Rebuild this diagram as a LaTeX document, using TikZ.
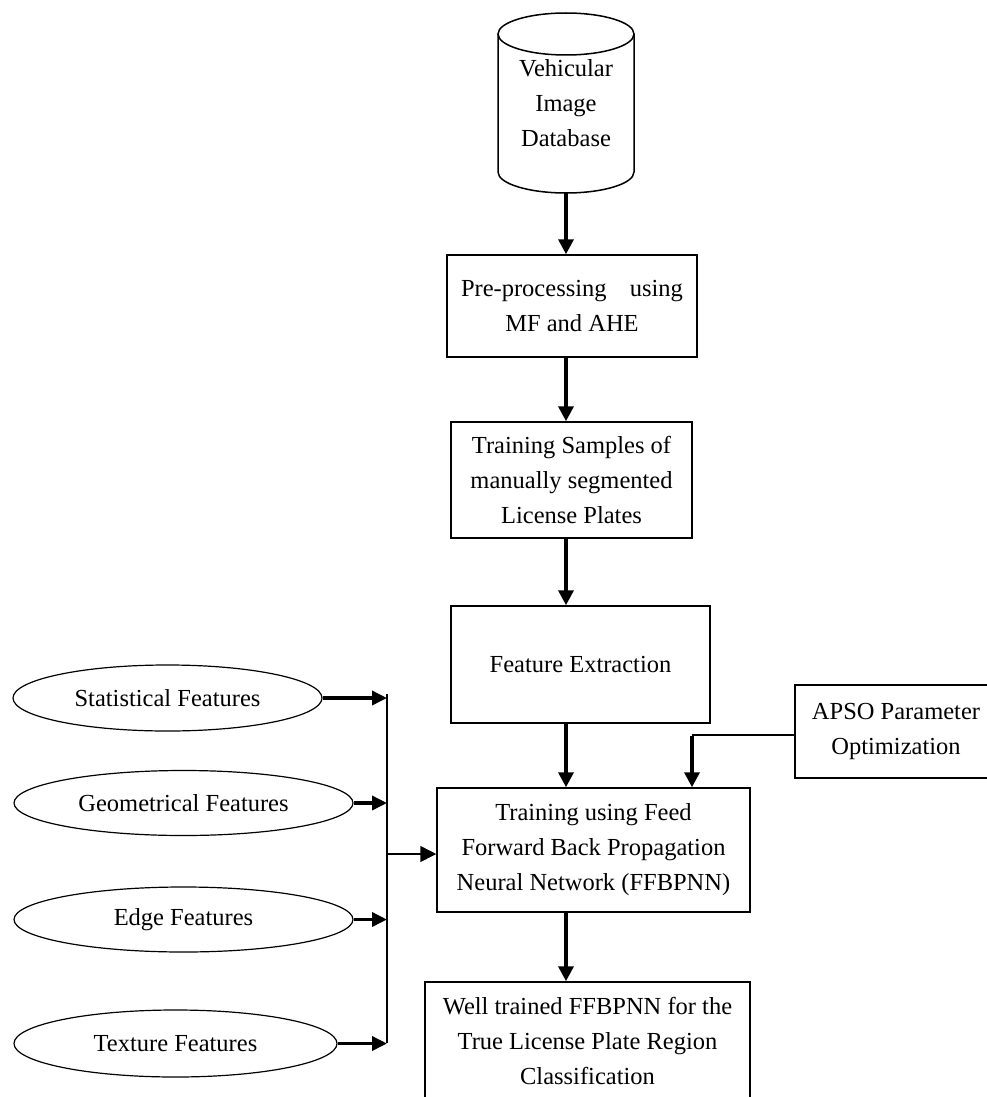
\documentclass[tikz,border=0pt]{standalone}
\usepackage{fontspec}
\setmainfont{Liberation Serif}
\usetikzlibrary{arrows.meta,shapes.geometric}

\begin{document}
\begin{tikzpicture}[x=1pt,y=-1pt,
  every node/.style={font=\fontsize{24.5}{35}\selectfont},
  stepbox/.style={draw,line width=1.5pt,rectangle,inner sep=0pt,align=center},
  featnode/.style={draw,line width=1.2pt,ellipse,inner sep=0pt},
  flow/.style={line width=3.5pt,-{Triangle[length=15pt,width=15pt]}},
  feed/.style={line width=3.5pt,-{Triangle[length=15pt,width=14pt]}},
  thinline/.style={line width=1.5pt},
  thinflow/.style={line width=1.5pt,-{Triangle[length=16pt,width=16pt]}}]
\useasboundingbox (0,0) rectangle (987,1097);
\clip (0,0) rectangle (987,1097);

% database cylinder
\node[minimum width=136pt,minimum height=180pt,inner sep=0pt,align=center] (db) at (566,103)
  {Vehicular\\Image\\Database};
\draw[line width=1.5pt] (498,34) -- (498,172)
  arc[start angle=180,end angle=360,x radius=68pt,y radius=21pt] -- (634,34);
\draw[line width=1.5pt] (566,34) ellipse[x radius=68pt,y radius=21pt];

% processing chain
\node[stepbox,minimum width=250pt,minimum height=102pt] (pre) at (572,306)
  {Pre-processing\hspace{0.7em} using\\MF and AHE};
\node[stepbox,minimum width=241pt,minimum height=116pt] (samples) at (571.5,480)
  {Training Samples of\\manually segmented\\License Plates};
\node[stepbox,minimum width=259pt,minimum height=117pt] (fe) at (580.5,664.5)
  {Feature Extraction};
\node[stepbox,minimum width=202pt,minimum height=93pt] (apso) at (896,731.5)
  {APSO Parameter\\Optimization};
\node[stepbox,minimum width=313pt,minimum height=124pt] (train) at (593.5,850)
  {Training using Feed\\Forward Back Propagation\\Neural Network (FFBPNN)};
\node[stepbox,minimum width=325pt,minimum height=118pt] (result) at (587.5,1041)
  {Well trained FFBPNN for the\\True License Plate Region\\Classification};

% feature ellipses
\node[featnode,minimum width=309pt,minimum height=66pt] (stat) at (167.5,698) {Statistical Features};
\node[featnode,minimum width=339pt,minimum height=65pt] (geom) at (183.5,803) {Geometrical Features};
\node[featnode,minimum width=339pt,minimum height=65pt] (edge) at (183.5,919.5) {Edge Features};
\node[featnode,minimum width=323pt,minimum height=67pt] (tex) at (175.5,1043.5) {Texture Features};

% main vertical flow
\draw[flow] (db.south) -- (db.south |- pre.north);
\draw[flow] (pre.south -| db.south) -- (samples.north -| db.south);
\draw[flow] (samples.south -| db.south) -- (fe.north -| db.south);
\draw[flow] (fe.south -| db.south) -- (train.north -| db.south);
\draw[flow] (train.south -| db.south) -- (result.north -| db.south);

% parameter optimisation input
\coordinate (bend) at (692,735);
\draw[thinline] (apso.west |- bend) -- (bend);
\draw[flow] ([yshift=-1pt]bend) -- (bend |- train.north);

% feature bus
\coordinate (bustop) at (387,694);
\coordinate (busbot) at (387,1043);
\coordinate (tap) at (387,854);
\draw[thinline] (bustop) -- (busbot);
\draw[feed] (stat.east) -- (stat.east -| bustop);
\draw[feed] (geom.east) -- (geom.east -| bustop);
\draw[feed] (edge.east) -- (edge.east -| bustop);
\draw[feed] (tex.east) -- (tex.east -| bustop);
\draw[thinflow] (tap) -- (tap -| train.west);
\end{tikzpicture}
\end{document}
